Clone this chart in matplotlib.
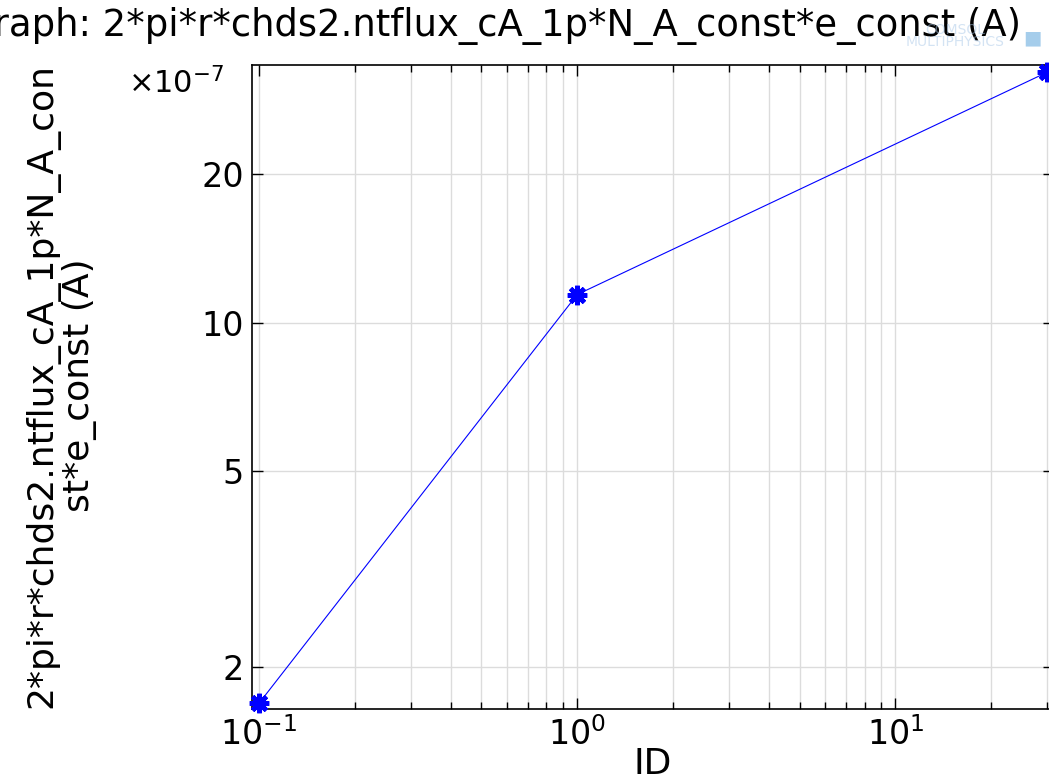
import numpy as np
import matplotlib
matplotlib.use("Agg")
import matplotlib.pyplot as plt
from matplotlib.ticker import FixedLocator, NullFormatter, LogLocator

# data (y in A)
id_vals = [0.1, 1.0, 30.0]
current = [1.69e-7, 11.4e-7, 32.2e-7]
y_ticks = [2, 5, 10, 20]
y_tick_labels = ['2', '5', '10', '20']

title = 'Graph: 2*pi*r*chds2.ntflux_cA_1p*N_A_const*e_const (A)'
ylab = '2*pi*r*chds2.ntflux_cA_1p*N_A_con\nst*e_const (A)'

plt.rcParams['font.family'] = 'DejaVu Sans'
fig = plt.figure(figsize=(10.49, 7.83), dpi=100)
ax = fig.add_axes([252 / 1049, 74 / 783, 802 / 1049, 644 / 783])

y_scaled = np.array(current) / 1e-7
ax.plot(id_vals, y_scaled, color='#0000ff', lw=0.8, marker=(8, 2, 0),
        ms=14, mew=3.4, mec='#0000ff', mfc='#0000ff', clip_on=False, zorder=5)

ax.set_xscale('log')
ax.set_yscale('log')
ax.set_xlim(0.0951, 31.5)
ax.set_ylim(1.646, 33.3)

ax.yaxis.set_major_locator(FixedLocator(y_ticks))
ax.set_yticklabels(y_tick_labels)
ax.yaxis.set_minor_locator(FixedLocator([]))
ax.yaxis.set_minor_formatter(NullFormatter())
ax.xaxis.set_major_locator(LogLocator(base=10))
ax.xaxis.set_minor_locator(LogLocator(base=10, subs=np.arange(2, 10)))
ax.xaxis.set_minor_formatter(NullFormatter())

ax.grid(True, which='major', color='#dcdcdc', lw=1)
ax.grid(True, which='minor', axis='x', color='#dcdcdc', lw=1)
ax.tick_params(which='both', direction='in', top=True, right=True, labelsize=24, width=1)
ax.tick_params(which='major', length=8, pad=6)
ax.tick_params(which='minor', length=5)
for s in ax.spines.values():
    s.set_linewidth(1.2)

ax.set_xlabel('ID', fontsize=26, labelpad=-4)
# the reference image is cropped, so the title starts past the left edge
fig.text(-35 / 1049, 1 - 36 / 783, title, fontsize=26.6, ha='left', va='baseline')
fig.text(61 / 1049, 1 - 385 / 783, ylab, fontsize=26, rotation=90,
         ha='center', va='center', multialignment='center', linespacing=1.1)
fig.text(128 / 1049, 1 - 93 / 783, r'$\times10^{-7}$', fontsize=22, ha='left', va='baseline')
fig.text(955 / 1049, 1 - 36 / 783, 'COMSOL\nMULTIPHYSICS', fontsize=10, color='#a9c8e8',
         alpha=0.5, ha='center', va='center', linespacing=0.9)
fig.text(1032 / 1049, 1 - 38 / 783, u'\u25a0', fontsize=14, color='#8fc1e6',
         alpha=0.8, ha='center', va='center')

fig.savefig('out.png', dpi=100)
